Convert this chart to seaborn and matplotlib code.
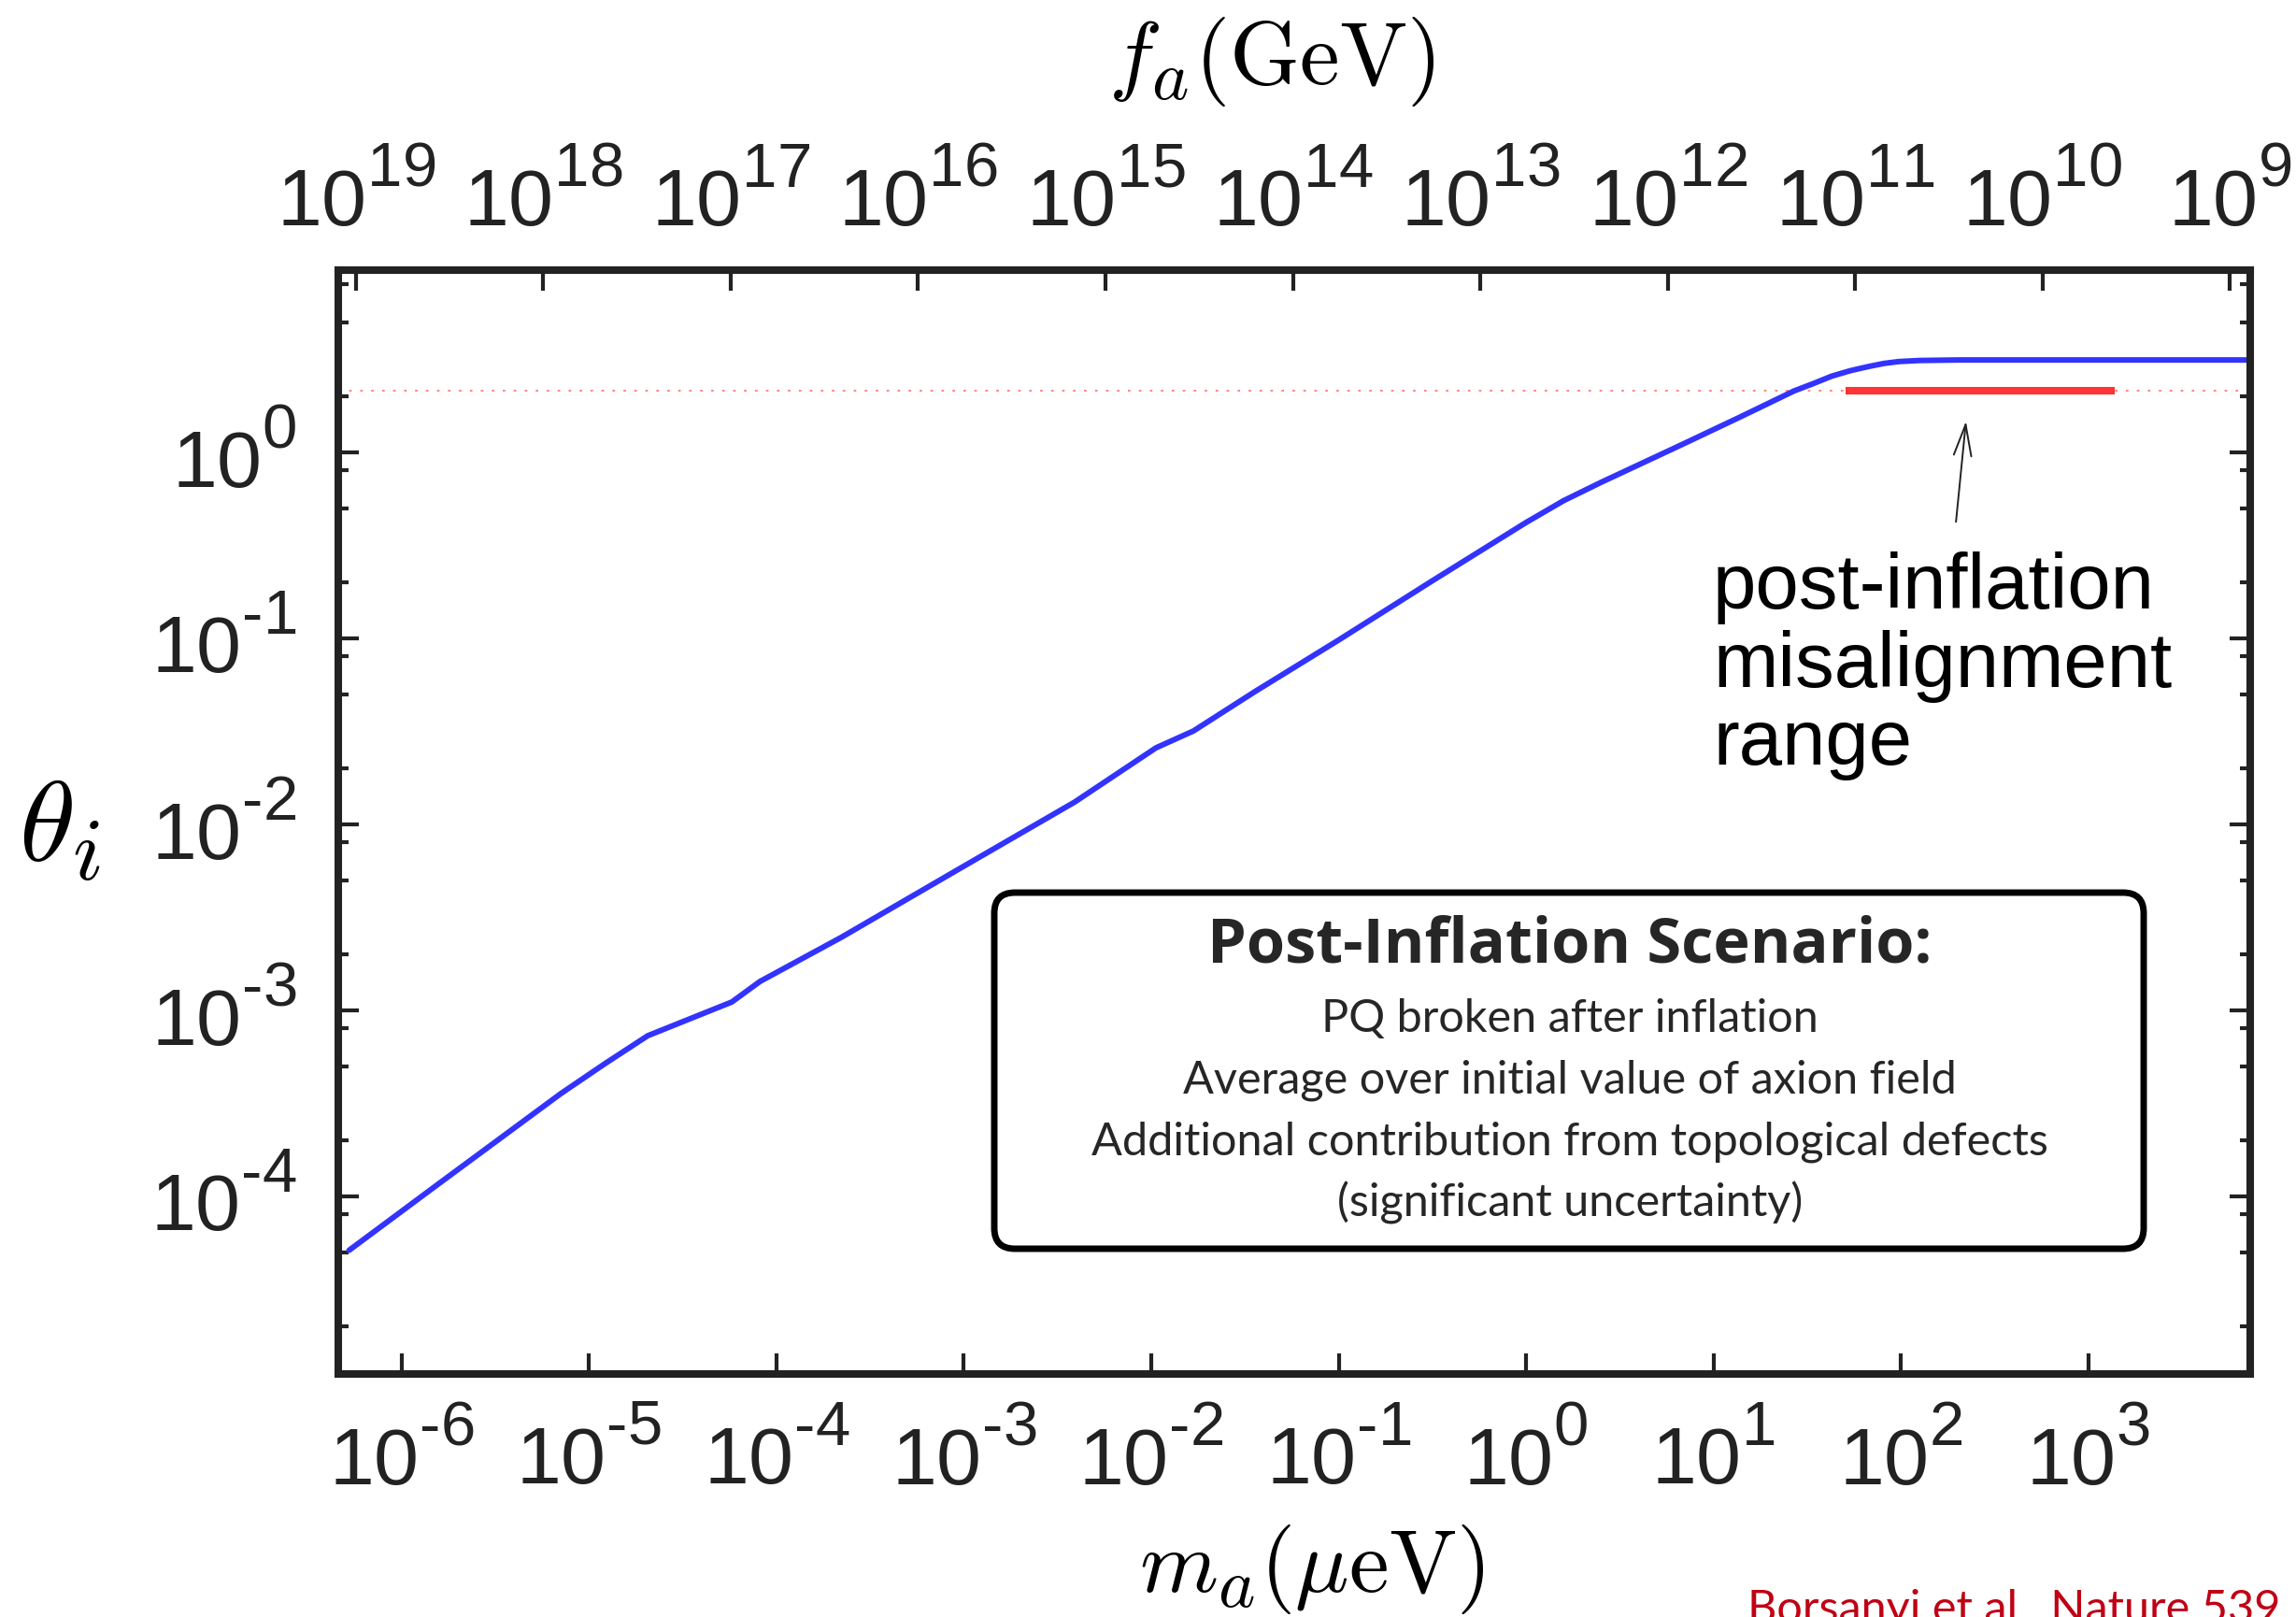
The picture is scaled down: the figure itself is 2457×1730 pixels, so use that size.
import numpy as np
import pandas as pd
import seaborn as sns
import matplotlib.pyplot as plt
from matplotlib import ticker
from matplotlib.patches import FancyBboxPatch

# axion mass (micro-eV) vs initial misalignment angle
ma_uev = [5.25e-7, 1.58e-6, 7.08e-6, 1.22e-5, 2.06e-5, 5.79e-5, 8.17e-5, 2.22e-4,
          1.0e-3, 3.91e-3, 1.06e-2, 1.68e-2, 3.58e-2, 0.1, 0.316, 1.0, 1.585, 2.51,
          6.76, 13.5, 26.9, 33.9, 42.7, 53.7, 67.6, 81.3, 97.7, 126, 200, 7300]
theta_i = [5.13e-5, 1.17e-4, 3.57e-4, 5.18e-4, 7.31e-4, 1.11e-3, 1.43e-3, 2.47e-3,
           5.96e-3, 1.32e-2, 2.58e-2, 3.18e-2, 5.18e-2, 0.098, 0.204, 0.42, 0.55, 0.69,
           1.10, 1.53, 2.14, 2.34, 2.57, 2.75, 2.90, 3.01, 3.08, 3.12, 3.14, 3.14]

# post-inflation misalignment range (red bar) and average theta (dotted line)
range_ma = [50.7, 1380]
range_theta = [2.155, 2.155]
theta_avg = 2.155

# f_a = FA_CONST / m_a   (GeV, with m_a in micro-eV)
FA_CONST = 5.7e12

box_title = 'Post-Inflation Scenario:'
box_lines = ['PQ broken after inflation',
             'Average over initial value of axion field',
             'Additional contribution from topological defects',
             '(significant uncertainty)']

df = pd.DataFrame({'ma': ma_uev, 'theta': theta_i})

sns.set_style('ticks')
plt.rcParams['font.family'] = ['Liberation Sans', 'DejaVu Sans']

# bigger, higher superscripts on the tick labels (like the gnuplot original)
try:
    import matplotlib._mathtext as _mt

    class _SansConsts(_mt.FontConstantsBase):
        sup1 = 0.93

    _mt._font_constant_mapping['Liberation Sans'] = _SansConsts
    _mt.SHRINK_FACTOR = 0.78
except Exception:
    pass

INK = '#222222'

fig = plt.figure(figsize=(24.57, 17.30), dpi=100)
ax = fig.add_axes([0.14733, 0.15029, 0.83272, 0.68266])

sns.lineplot(data=df, x='ma', y='theta', ax=ax, color='#3333ff', linewidth=4.3, sort=False)
ax.axhline(theta_avg, color='#ff7a7a', lw=1.3, ls=(0, (1.5, 5)), zorder=1)
ax.plot(range_ma, range_theta, color='#ff3333', lw=5.8, solid_capstyle='butt', zorder=3)

ax.set_xscale('log')
ax.set_yscale('log')
ax.set_xlim(4.6e-7, 7300)
ax.set_ylim(1.11e-5, 9.55)


def exp_label(v, pos):
    e = int(round(np.log10(v)))
    return r'$\mathdefault{10^{%s}}$' % str(e).replace('-', '\u2010')


ax.xaxis.set_major_locator(ticker.LogLocator(base=10, numticks=30))
ax.xaxis.set_minor_locator(ticker.NullLocator())
ax.yaxis.set_major_locator(ticker.LogLocator(base=10, numticks=30))
ax.yaxis.set_minor_locator(ticker.LogLocator(base=10, subs=[2, 5, 8], numticks=30))
ax.xaxis.set_major_formatter(ticker.FuncFormatter(exp_label))
ax.yaxis.set_major_formatter(ticker.FuncFormatter(exp_label))

ax.tick_params(axis='x', which='major', direction='in', length=16, width=3,
               color=INK, labelcolor=INK, labelsize=62, pad=31, top=False)
ax.tick_params(axis='y', which='major', direction='in', length=16, width=3,
               color=INK, labelcolor=INK, labelsize=62, pad=32, right=True)
ax.tick_params(axis='y', which='minor', direction='in', length=8, width=3,
               color=INK, right=True)
for sp in ax.spines.values():
    sp.set_visible(True)
    sp.set_linewidth(5.8)
    sp.set_color(INK)

ax.set_xlabel('')
ax.set_ylabel('')


def m_to_f(m):
    m = np.asarray(m, dtype=float)
    return FA_CONST / np.where(m == 0, 1e-300, m)


secax = ax.secondary_xaxis('top', functions=(m_to_f, m_to_f))
secax.xaxis.set_major_locator(ticker.LogLocator(base=10, numticks=30))
secax.xaxis.set_minor_locator(ticker.NullLocator())
secax.xaxis.set_major_formatter(ticker.FuncFormatter(exp_label))
secax.tick_params(axis='x', which='major', direction='in', length=16, width=3,
                  color=INK, labelcolor=INK, labelsize=62, pad=21)
secax.spines['top'].set_linewidth(5.8)
secax.spines['top'].set_color(INK)

# axis titles
fig.text(1361 / 2457, 1 - 66 / 1730, r'$f_a(\mathrm{GeV})$', math_fontfamily='cm',
         fontsize=69, ha='center', va='center', color='black')
fig.text(1404 / 2457, 1 - 1703 / 1730, r'$m_a(\mu\mathrm{eV})$', math_fontfamily='cm',
         fontsize=69, ha='center', va='baseline', color='black')
fig.text(64 / 2457, 1 - 890 / 1730, r'$\theta_i$', math_fontfamily='cm',
         fontsize=88, ha='center', va='center', color='black')

# annotation for the red range
ax.annotate('', xy=(223, 1.52), xytext=(196, 0.41),
            arrowprops=dict(arrowstyle='->,head_length=1.6,head_width=0.45',
                            mutation_scale=15, lw=1.4, color=INK))
ax.text(0.719, 0.745, 'post-inflation\nmisalignment\nrange', transform=ax.transAxes,
        fontsize=60, ha='left', va='top', linespacing=1.09, color='black')

# scenario box
box = FancyBboxPatch((10.64, 3.94), 12.30, 3.81,
                     boxstyle='round,pad=0,rounding_size=0.22',
                     transform=fig.dpi_scale_trans, fc='white', ec='black', lw=5,
                     zorder=5)
fig.add_artist(box)
fig.text(1680 / 2457, 1 - 1030 / 1730, box_title, fontsize=48, fontweight='bold',
         family='Open Sans', ha='center', va='baseline', zorder=6)
for i, line in enumerate(box_lines):
    fig.text(1680 / 2457, 1 - (1104 + 66 * i) / 1730, line, fontsize=35,
             family='Lato', ha='center', va='baseline', zorder=6)

fig.text(1870 / 2457, 1 - 1700 / 1730, 'Borsanyi et al., Nature 539', fontsize=35,
         family='Lato', color='#c00014', ha='left', va='top')

fig.savefig('out.png', dpi=100)
